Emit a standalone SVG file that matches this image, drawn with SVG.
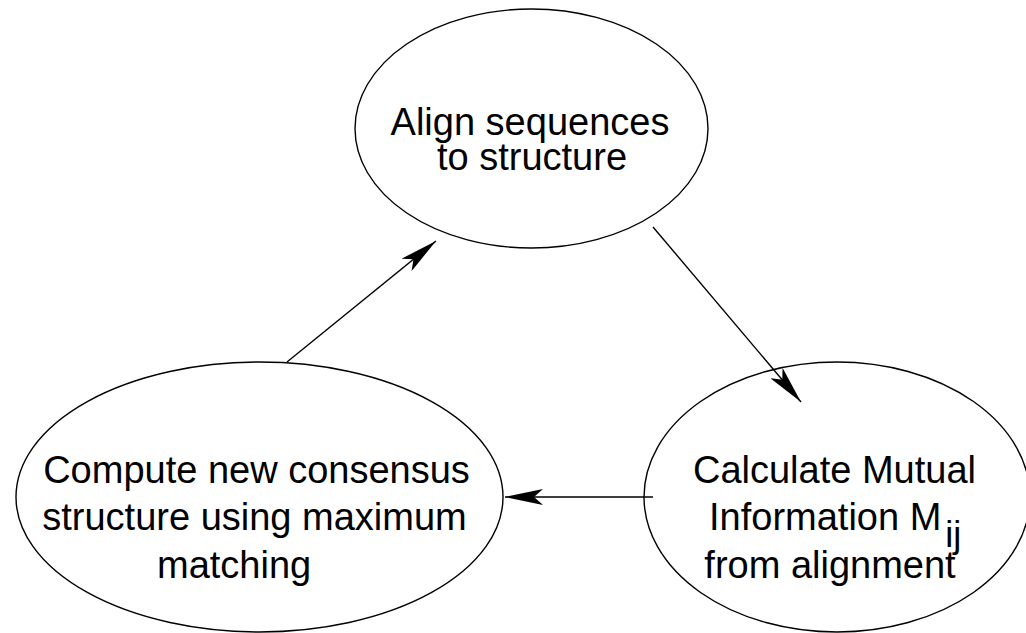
<svg xmlns="http://www.w3.org/2000/svg" width="1026" height="633" viewBox="0 0 1026 633">
<defs>
<style>
.node{fill:#fff;stroke:#000;stroke-width:1.4}
.lbl{font-family:"Liberation Sans",Arial,Helvetica,sans-serif;font-size:38px;fill:#000}
.sub{font-size:36px}
.edge{stroke:#000;stroke-width:1.4;fill:none}
</style>
<marker id="arr" viewBox="0 0 38 16" refX="38" refY="8" markerWidth="38" markerHeight="16" markerUnits="userSpaceOnUse" orient="auto">
<path d="M38,8 L0,0 L9,8 L0,16 Z" fill="#000"/>
</marker>
</defs>
<rect width="1026" height="633" fill="#fff"/>
<g id="node-align">
<ellipse class="node" cx="531.5" cy="128.5" rx="176.5" ry="119.5"/>
<text class="lbl" x="530" y="135" text-anchor="middle">Align sequences</text>
<text class="lbl" x="532" y="170" text-anchor="middle">to structure</text>
</g>
<g id="node-mutual">
<ellipse class="node" cx="837" cy="497" rx="193" ry="135"/>
<text class="lbl" x="834.5" y="483" text-anchor="middle">Calculate Mutual</text>
<text class="lbl" x="709" y="530">Information M<tspan class="sub" dx="4" dy="17">ij</tspan></text>
<text class="lbl" x="830" y="578" text-anchor="middle">from alignment</text>
</g>
<g id="node-consensus">
<ellipse class="node" cx="259.5" cy="497" rx="243.5" ry="135"/>
<text class="lbl" x="256.5" y="483" text-anchor="middle">Compute new consensus</text>
<text class="lbl" x="254.5" y="530" text-anchor="middle">structure using maximum</text>
<text class="lbl" x="157" y="578">matching</text>
</g>
<g id="connectors">
<line class="edge" x1="653" y1="227" x2="801" y2="402" marker-end="url(#arr)"/>
<line class="edge" x1="653" y1="497" x2="505" y2="497" marker-end="url(#arr)"/>
<line class="edge" x1="287" y1="362" x2="436" y2="241" marker-end="url(#arr)"/>
</g>
</svg>
